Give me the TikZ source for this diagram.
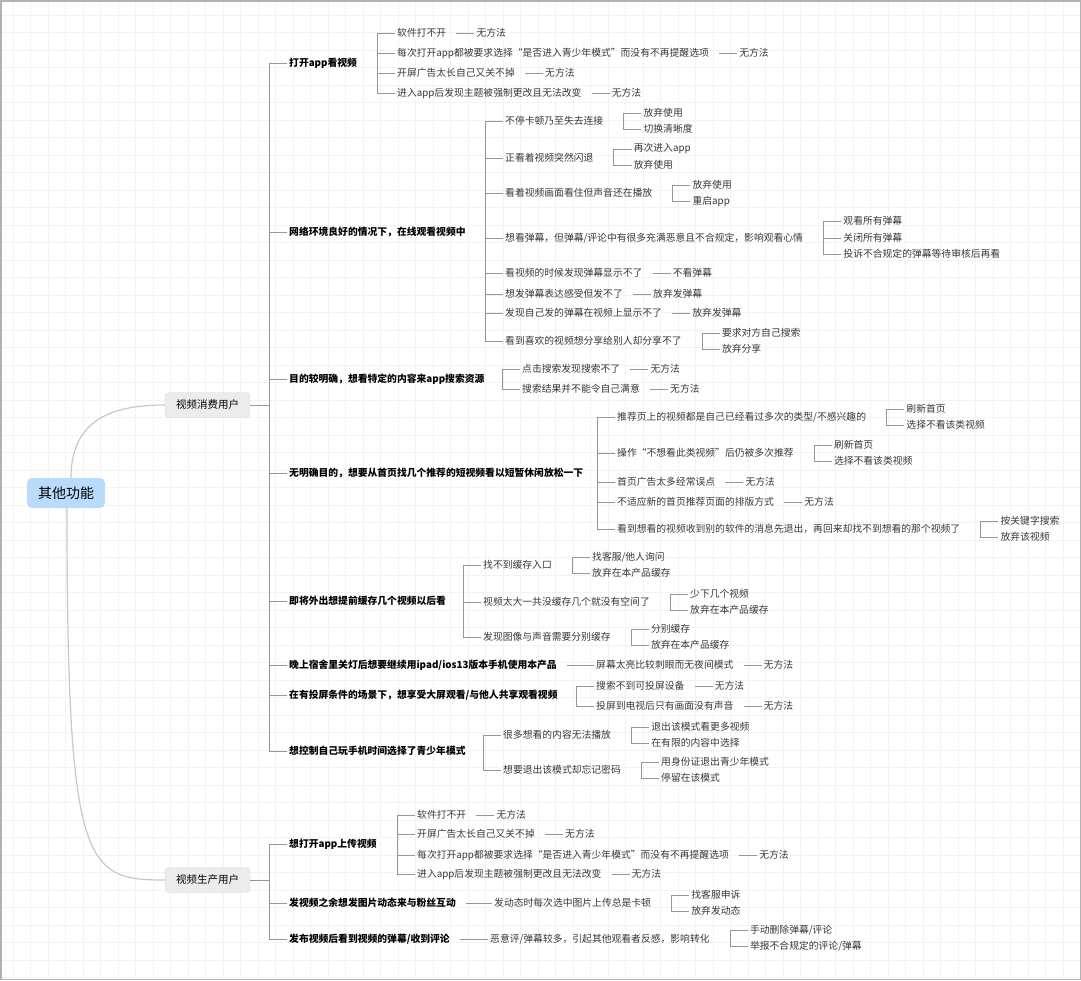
\documentclass[tikz,border=0pt]{standalone}
\usepackage{fontspec}
\setmainfont{Noto Sans CJK SC}
\usepackage{tikz}
\usetikzlibrary{positioning}
\definecolor{rootblue}{RGB}{186,220,252}
\definecolor{boxgray}{RGB}{236,236,236}
\definecolor{boxedge}{RGB}{214,214,214}
\definecolor{linegray}{RGB}{150,150,150}
\definecolor{curvegray}{RGB}{200,200,200}
\definecolor{txtgray}{RGB}{55,55,55}
\definecolor{gridgray}{RGB}{243,243,243}
\tikzset{
  rootbox/.style={rectangle, fill=rootblue, rounded corners=5pt, minimum width=78pt, minimum height=30pt, font=\fontsize{14}{16}\selectfont},
  userbox/.style={rectangle, fill=boxgray, draw=boxedge, rounded corners=4pt, minimum width=85pt, minimum height=25pt, font=\fontsize{10.5}{12}\selectfont},
  scene/.style={anchor=west, inner sep=0pt, font=\fontsize{9.8}{11}\selectfont\bfseries},
  issue/.style={anchor=west, inner sep=0pt, text=txtgray, font=\fontsize{9.8}{11}\selectfont},
  branch/.style={draw=linegray, line width=0.6pt},
  curve/.style={draw=curvegray, line width=1.2pt},
  gridline/.style={draw=gridgray, line width=0.8pt}
}

\begin{document}
\begin{tikzpicture}[x=1pt, y=-1pt]
  \useasboundingbox (0,0) rectangle (1081,980);
  % background grid
  \foreach \i in {0,...,61} \draw[gridline] (13+\i*17.5,0) -- ++(0,980);
  \foreach \j in {0,...,55} \draw[gridline] (0,15+\j*17.5) -- ++(1081,0);
  \draw[gray!60, line width=1.5pt] (0.75,0.75) rectangle (1080.25,979.25);

  % root and users
  \node[rootbox] (root) at (66,493) {其他功能};
  \node[userbox] (cons) at (207.5,405) {视频消费用户};
  \node[userbox] (prod) at (207.5,880) {视频生产用户};
  \draw[curve] ([xshift=5pt]root.north) .. controls +(0,-60) and +(-50,0) .. (cons.west);
  \draw[curve] ([xshift=1pt]root.south) .. controls +(0,360) and +(-80,0) .. (prod.west);

  % consumer scenes
  \node[scene] (A1) at (289,63) {打开app看视频};
  \node[scene] (A2) at (289,232) {网络环境良好的情况下，在线观看视频中};
  \node[scene] (A3) at (289,379) {目的较明确，想看特定的内容来app搜索资源};
  \node[scene] (A4) at (289,473) {无明确目的，想要从首页找几个推荐的短视频看以短暂休闲放松一下};
  \node[scene] (A5) at (289,601) {即将外出想提前缓存几个视频以后看};
  \node[scene] (A6) at (289,665) {晚上宿舍里关灯后想要继续用ipad/ios13版本手机使用本产品};
  \node[scene] (A7) at (289,695) {在有投屏条件的场景下，想享受大屏观看/与他人共享观看视频};
  \node[scene] (A8) at (289,751) {想控制自己玩手机时间选择了青少年模式};

  % producer scenes
  \node[scene] (B1) at (289,844) {想打开app上传视频};
  \node[scene] (B2) at (289,903) {发视频之余想发图片动态来与粉丝互动};
  \node[scene] (B3) at (289,939) {发布视频后看到视频的弹幕/收到评论};

  % A1
  \node[issue] (a11) at (397,33) {软件打不开};
  \node[issue] (a12) at (397,53) {每次打开app都被要求选择“是否进入青少年模式”而没有不再提醒选项};
  \node[issue] (a13) at (397,73) {开屏广告太长自己又关不掉};
  \node[issue] (a14) at (397,93) {进入app后发现主题被强制更改且无法改变};
  \node[issue, right=30pt of a11] (a11x) {无方法};
  \node[issue, right=30pt of a12] (a12x) {无方法};
  \node[issue, right=30pt of a13] (a13x) {无方法};
  \node[issue, right=30pt of a14] (a14x) {无方法};

  % A2
  \node[issue] (a21) at (505,121) {不停卡顿乃至失去连接};
  \node[issue] (a22) at (505,158) {正看着视频突然闪退};
  \node[issue] (a23) at (505,193) {看着视频画面看住但声音还在播放};
  \node[issue] (a24) at (505,238) {想看弹幕，但弹幕/评论中有很多充满恶意且不合规定，影响观看心情};
  \node[issue] (a25) at (505,273) {看视频的时候发现弹幕显示不了};
  \node[issue] (a26) at (505,294) {想发弹幕表达感受但发不了};
  \node[issue] (a27) at (505,313) {发现自己发的弹幕在视频上显示不了};
  \node[issue] (a28) at (505,341) {看到喜欢的视频想分享给别人却分享不了};
  \node[issue, right=40pt of a21, yshift=8pt] (a21a) {放弃使用};
  \node[issue, right=40pt of a21, yshift=-8pt] (a21b) {切换清晰度};
  \node[issue, right=40pt of a22, yshift=9pt] (a22a) {再次进入app};
  \node[issue, right=40pt of a22, yshift=-7pt] (a22b) {放弃使用};
  \node[issue, right=40pt of a23, yshift=8pt] (a23a) {放弃使用};
  \node[issue, right=40pt of a23, yshift=-8pt] (a23b) {重启app};
  \node[issue, right=40pt of a24, yshift=17pt] (a24a) {观看所有弹幕};
  \node[issue, right=40pt of a24] (a24b) {关闭所有弹幕};
  \node[issue, right=40pt of a24, yshift=-16pt] (a24c) {投诉不合规定的弹幕等待审核后再看};
  \node[issue, right=30pt of a25] (a25x) {不看弹幕};
  \node[issue, right=30pt of a26] (a26x) {放弃发弹幕};
  \node[issue, right=30pt of a27] (a27x) {放弃发弹幕};
  \node[issue, right=40pt of a28, yshift=8pt] (a28a) {要求对方自己搜索};
  \node[issue, right=40pt of a28, yshift=-8pt] (a28b) {放弃分享};

  % A3
  \node[issue] (a31) at (522,369) {点击搜索发现搜索不了};
  \node[issue] (a32) at (522,389) {搜索结果并不能令自己满意};
  \node[issue, right=30pt of a31] (a31x) {无方法};
  \node[issue, right=30pt of a32] (a32x) {无方法};

  % A4
  \node[issue] (a41) at (617,417) {推荐页上的视频都是自己已经看过多次的类型/不感兴趣的};
  \node[issue] (a42) at (617,453) {操作“不想看此类视频”后仍被多次推荐};
  \node[issue] (a43) at (617,482) {首页广告太多经常误点};
  \node[issue] (a44) at (617,502) {不适应新的首页推荐页面的排版方式};
  \node[issue] (a45) at (617,529) {看到想看的视频收到别的软件的消息先退出，再回来却找不到想看的那个视频了};
  \node[issue, right=40pt of a41, yshift=8pt] (a41a) {刷新首页};
  \node[issue, right=40pt of a41, yshift=-8pt] (a41b) {选择不看该类视频};
  \node[issue, right=40pt of a42, yshift=8pt] (a42a) {刷新首页};
  \node[issue, right=40pt of a42, yshift=-8pt] (a42b) {选择不看该类视频};
  \node[issue, right=30pt of a43] (a43x) {无方法};
  \node[issue, right=30pt of a44] (a44x) {无方法};
  \node[issue, right=40pt of a45, yshift=8pt] (a45a) {按关键字搜索};
  \node[issue, right=40pt of a45, yshift=-8pt] (a45b) {放弃该视频};

  % A5
  \node[issue] (a51) at (483,565) {找不到缓存入口};
  \node[issue] (a52) at (483,602) {视频太大一共没缓存几个就没有空间了};
  \node[issue] (a53) at (483,637) {发现图像与声音需要分别缓存};
  \node[issue, right=40pt of a51, yshift=8pt] (a51a) {找客服/他人询问};
  \node[issue, right=40pt of a51, yshift=-8pt] (a51b) {放弃在本产品缓存};
  \node[issue, right=40pt of a52, yshift=8pt] (a52a) {少下几个视频};
  \node[issue, right=40pt of a52, yshift=-8pt] (a52b) {放弃在本产品缓存};
  \node[issue, right=40pt of a53, yshift=8pt] (a53a) {分别缓存};
  \node[issue, right=40pt of a53, yshift=-8pt] (a53b) {放弃在本产品缓存};

  % A6, A7
  \node[issue] (a61) at (596,665) {屏幕太亮比较刺眼而无夜间模式};
  \node[issue, right=30pt of a61] (a61x) {无方法};
  \node[issue] (a71) at (596,686) {搜索不到可投屏设备};
  \node[issue] (a72) at (596,706) {投屏到电视后只有画面没有声音};
  \node[issue, right=30pt of a71] (a71x) {无方法};
  \node[issue, right=30pt of a72] (a72x) {无方法};

  % A8
  \node[issue] (a81) at (503,735) {很多想看的内容无法播放};
  \node[issue] (a82) at (503,770) {想要退出该模式却忘记密码};
  \node[issue, right=40pt of a81, yshift=8pt] (a81a) {退出该模式看更多视频};
  \node[issue, right=40pt of a81, yshift=-8pt] (a81b) {在有限的内容中选择};
  \node[issue, right=40pt of a82, yshift=8pt] (a82a) {用身份证退出青少年模式};
  \node[issue, right=40pt of a82, yshift=-8pt] (a82b) {停留在该模式};

  % B1
  \node[issue] (b11) at (417,815) {软件打不开};
  \node[issue] (b12) at (417,834) {开屏广告太长自己又关不掉};
  \node[issue] (b13) at (417,855) {每次打开app都被要求选择“是否进入青少年模式”而没有不再提醒选项};
  \node[issue] (b14) at (417,874) {进入app后发现主题被强制更改且无法改变};
  \node[issue, right=30pt of b11] (b11x) {无方法};
  \node[issue, right=30pt of b12] (b12x) {无方法};
  \node[issue, right=30pt of b13] (b13x) {无方法};
  \node[issue, right=30pt of b14] (b14x) {无方法};

  % B2, B3
  \node[issue] (b21) at (494,903) {发动态时每次选中图片上传总是卡顿};
  \node[issue, right=40pt of b21, yshift=8pt] (b21a) {找客服申诉};
  \node[issue, right=40pt of b21, yshift=-8pt] (b21b) {放弃发动态};
  \node[issue] (b31) at (490,939) {恶意评/弹幕较多，引起其他观看者反感，影响转化};
  \node[issue, right=40pt of b31, yshift=9pt] (b31a) {手动删除弹幕/评论};
  \node[issue, right=40pt of b31, yshift=-7pt] (b31b) {举报不合规定的评论/弹幕};

  % user boxes to trunks
  \coordinate (ctrunk) at ([xshift=-20pt]A1.west);
  \coordinate (ptrunk) at ([xshift=-20pt]B1.west);
  \draw[branch] (cons.east) -- (cons.east -| ctrunk);
  \draw[branch] (prod.east) -- (prod.east -| ptrunk);

  % brackets: first/last child
  \foreach \p/\q in {A1/A8, B1/B3, a11/a14, a21/a28, a31/a32, a41/a45, a51/a53, a71/a72, a81/a82, b11/b14,
      a21a/a21b, a22a/a22b, a23a/a23b, a24a/a24c, a28a/a28b, a41a/a41b, a42a/a42b, a45a/a45b,
      a51a/a51b, a52a/a52b, a53a/a53b, a81a/a81b, a82a/a82b, b21a/b21b, b31a/b31b}
    \draw[branch] ([xshift=-2pt]\p.west) -- ++(-18pt,0) |- ([xshift=-2pt]\q.west);
  % brackets: middle children
  \foreach \m in {A2, A3, A4, A5, A6, A7, B2, a12, a13, a22, a23, a24, a25, a26, a27,
      a42, a43, a44, a52, b12, b13, a24b}
    \draw[branch] ([xshift=-2pt]\m.west) -- ++(-18pt,0);
  % single follow-ups
  \foreach \p/\q in {a11/a11x, a12/a12x, a13/a13x, a14/a14x, a25/a25x, a26/a26x, a27/a27x,
      a31/a31x, a32/a32x, a43/a43x, a44/a44x, A6/a61, a61/a61x, a71/a71x, a72/a72x,
      b11/b11x, b12/b12x, b13/b13x, b14/b14x, B2/b21, B3/b31}
    \draw[branch] ([xshift=10pt]\p.east) -- ([xshift=-2pt]\q.west);
\end{tikzpicture}
\end{document}
